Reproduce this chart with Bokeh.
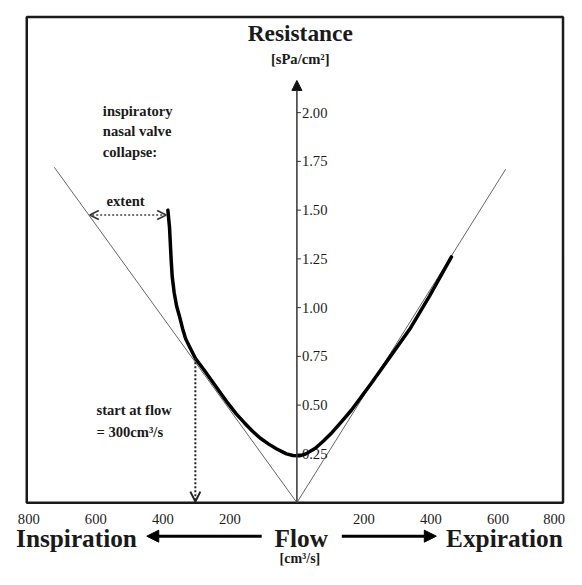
from bokeh.plotting import figure
from bokeh.models import Range1d, ColumnDataSource, Arrow, NormalHead, OpenHead
from bokeh.core.properties import value
from bokeh.embed import file_html
from bokeh.resources import INLINE

# ---------------- data ----------------
# measured resistance curve (flow in cm^3/s, negative = inspiration)
flow = [-385, -380, -375, -372, -366, -359, -351, -341, -332, -317, -303, -278,
        -254, -230, -206, -181, -157, -133, -109, -84, -60, -31, -12, 8, 27, 56,
        80, 105, 134, 163, 221, 279, 337, 396, 461]
resistance = [1.50, 1.41, 1.24, 1.158, 1.075, 1.008, 0.96, 0.892, 0.84, 0.788, 0.74,
              0.683, 0.625, 0.567, 0.51, 0.455, 0.41, 0.367, 0.33, 0.30, 0.275, 0.25,
              0.242, 0.24, 0.25, 0.28, 0.317, 0.36, 0.417, 0.475, 0.61, 0.75, 0.89,
              1.06, 1.26]

# straight reference lines from the origin
insp_line_flow = [0, -724]
insp_line_res = [0, 1.72]
exp_line_flow = [0, 623]
exp_line_res = [0, 1.71]

# axes
y_ticks = [0.25, 0.50, 0.75, 1.00, 1.25, 1.50, 1.75, 2.00]
y_tick_labels = ["0.25", "0.50", "0.75", "1.00", "1.25", "1.50", "1.75", "2.00"]
y_axis_top = 2.165
x_ticks = [-800, -600, -400, -200, 200, 400, 600, 800]
x_tick_labels = ["800", "600", "400", "200", "200", "400", "600", "800"]

# annotations
collapse_start_flow = -303
collapse_start_res = 0.74
extent_flow = [-390, -618]
extent_res = 1.475
note_lines = ["inspiratory", "nasal valve", "collapse:"]
start_lines = ["start at flow", "= 300cm\u00b3/s"]

# ---------------- figure ----------------
FONT = value("Liberation Serif")
INK = "#1a1a1a"
W, H = 566, 569
S = 0.975                      # overall scale so that everything fits
PX_PER_X = 0.34375 * S
X0_PX = 304 * S
PX_PER_Y = 200 * S
Y0_PX = 515 * S
BOX = dict(left=-806, right=794, bottom=0, top=2.49)


def fs(px):
    return f"{px * S:.1f}px"


p = figure(width=W, height=H, output_backend="svg", toolbar_location=None,
           x_range=Range1d(-X0_PX / PX_PER_X, (W - X0_PX) / PX_PER_X),
           y_range=Range1d(-(H - Y0_PX) / PX_PER_Y, Y0_PX / PX_PER_Y),
           x_axis_location=None, y_axis_location=None, min_border=0,
           tools="")
p.outline_line_color = None
p.grid.visible = False
p.background_fill_color = "white"
p.border_fill_color = "white"

# frame box
p.quad(left=[BOX["left"]], right=[BOX["right"]], bottom=[BOX["bottom"]], top=[BOX["top"]],
       fill_color=None, line_color=INK, line_width=2.5)

# reference lines
p.line(insp_line_flow, insp_line_res, line_color="#666666", line_width=1)
p.line(exp_line_flow, exp_line_res, line_color="#666666", line_width=1)

# central resistance axis
axis_src = ColumnDataSource(dict(x0=[0], y0=[0], x1=[0], y1=[y_axis_top]))
p.add_layout(Arrow(source=axis_src, x_start="x0", y_start="y0", x_end="x1", y_end="y1",
                   line_color="#333333", line_width=1.5,
                   end=NormalHead(size=10, fill_color="#111111", line_color="#111111")))
p.segment(x0=[0] * len(y_ticks), x1=[12] * len(y_ticks), y0=y_ticks, y1=y_ticks,
          line_color="#333333", line_width=1)
p.text(x=[15] * len(y_ticks), y=y_ticks, text=y_tick_labels, text_font=FONT,
       text_font_size=fs(15), text_color=INK, text_align="left", text_baseline="middle")

# x tick labels below the frame
x_align = ["center"] * (len(x_ticks) - 1) + ["right"]
x_src = ColumnDataSource(dict(x=x_ticks, y=[-0.085] * len(x_ticks), t=x_tick_labels, a=x_align))
p.text(x="x", y="y", text="t", text_align="a", source=x_src, text_font=FONT,
       text_font_size=fs(15), text_color=INK, text_baseline="middle")

# measured curve
p.line(flow, resistance, line_color="black", line_width=3.5, line_join="round", line_cap="round")

# extent arrow (dotted, both ends)
ext_src = ColumnDataSource(dict(x0=[extent_flow[0]], x1=[extent_flow[1]],
                                y0=[extent_res], y1=[extent_res]))
p.add_layout(Arrow(source=ext_src, x_start="x0", y_start="y0", x_end="x1", y_end="y1",
                   line_color="#444444", line_width=1.5, line_dash="2 2",
                   start=OpenHead(size=9, line_color="#333333", line_width=1.5),
                   end=OpenHead(size=9, line_color="#333333", line_width=1.5)))

# start-of-collapse arrow (dotted, downwards)
st_src = ColumnDataSource(dict(x0=[collapse_start_flow], x1=[collapse_start_flow],
                               y0=[collapse_start_res], y1=[0.005]))
p.add_layout(Arrow(source=st_src, x_start="x0", y_start="y0", x_end="x1", y_end="y1",
                   line_color="#222222", line_width=2, line_dash="2 2",
                   end=OpenHead(size=10, line_color="#222222", line_width=2)))

# annotation texts
p.text(x=[-579] * 3, y=[2.01, 1.905, 1.80], text=note_lines, text_font=FONT,
       text_font_size=fs(15), text_font_style="bold", text_color=INK,
       text_align="left", text_baseline="middle")
p.text(x=[-511], y=[1.545], text=["extent"], text_font=FONT, text_font_size=fs(15),
       text_font_style="bold", text_color=INK, text_align="center", text_baseline="middle")
p.text(x=[-598] * 2, y=[0.475, 0.36], text=start_lines, text_font=FONT,
       text_font_size=fs(15), text_font_style="bold", text_color=INK,
       text_align="left", text_baseline="middle")

# titles
p.text(x=[10], y=[2.41], text=["Resistance"], text_font=FONT, text_font_size=fs(24),
       text_font_style="bold", text_color=INK, text_align="center", text_baseline="middle")
p.text(x=[10], y=[2.275], text=["[sPa/cm\u00b2]"], text_font=FONT, text_font_size=fs(15),
       text_font_style="bold", text_color=INK, text_align="center", text_baseline="middle")

# bottom direction labels
p.text(x=[-838], y=[-0.18], text=["Inspiration"], text_font=FONT, text_font_size=fs(26),
       text_font_style="bold", text_color=INK, text_align="left", text_baseline="middle")
p.text(x=[13], y=[-0.18], text=["Flow"], text_font=FONT, text_font_size=fs(26),
       text_font_style="bold", text_color=INK, text_align="center", text_baseline="middle")
p.text(x=[445], y=[-0.18], text=["Expiration"], text_font=FONT, text_font_size=fs(26),
       text_font_style="bold", text_color=INK, text_align="left", text_baseline="middle")
p.text(x=[9], y=[-0.285], text=["[cm\u00b3/s]"], text_font=FONT, text_font_size="14px",
       text_font_style="bold", text_color=INK, text_align="center", text_baseline="middle")

dir_src = ColumnDataSource(dict(x0=[-105, 134], x1=[-448, 416], y0=[-0.172, -0.172],
                                y1=[-0.172, -0.172]))
p.add_layout(Arrow(source=dir_src, x_start="x0", y_start="y0", x_end="x1", y_end="y1",
                   line_color="black", line_width=3,
                   end=NormalHead(size=12, fill_color="black", line_color="black")))

open("out.html", "w").write(file_html(p, INLINE))
